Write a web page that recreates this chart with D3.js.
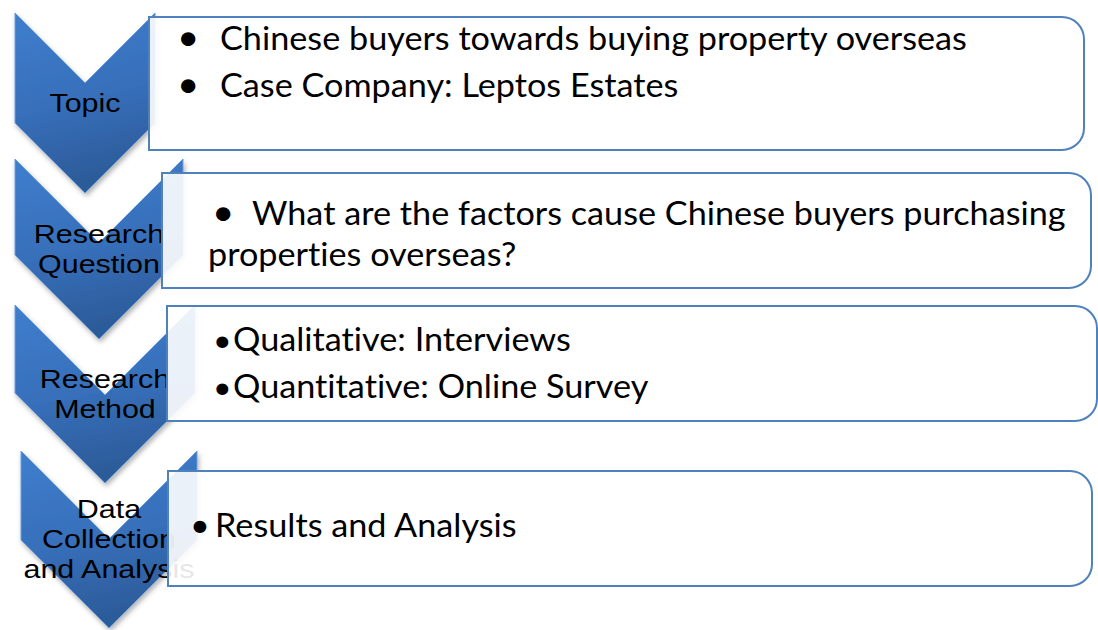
<!DOCTYPE html>
<html>
<head>
<meta charset="utf-8">
<style>
  html, body { margin: 0; padding: 0; background: #fff; }
  svg { display: block; }
  text { font-variant-ligatures: none; }
</style>
</head>
<body>
<div id="diagram"></div>
<script src="https://d3js.org/d3.v7.min.js"></script>
<script>
  // stage labels (left chevrons), one entry per line
  const stages = [
    ["Topic"],
    ["Research", "Question"],
    ["Research", "Method"],
    ["Data", "Collection", "and Analysis"]
  ];

  // bullet points shown in each box
  const details = [
    ["Chinese buyers towards buying property overseas", "Case Company: Leptos Estates"],
    ["What are the factors cause Chinese buyers purchasing properties overseas?"],
    ["Qualitative: Interviews", "Quantitative: Online Survey"],
    ["Results and Analysis"]
  ];

  // drawing geometry (it is not perfectly regular)
  const layout = [
    { cl: 15, cw: 140, ch: 180, bl: 149, br: 1084, bt: 17,  bb: 150, bx: 177, bs: 36, tx: 220, wx: 220, base: 50,  lh: 47 },
    { cl: 15, cw: 168, ch: 180, bl: 162, br: 1091, bt: 173, bb: 288, bx: 212, bs: 36, tx: 252, wx: 208, base: 225, lh: 41 },
    { cl: 15, cw: 180, ch: 178, bl: 167, br: 1097, bt: 306, bb: 421, bx: 213, bs: 30, tx: 233, wx: 233, base: 351, lh: 47 },
    { cl: 21, cw: 176, ch: 177, bl: 168, br: 1092, bt: 471, bb: 586, bx: 190, bs: 32, tx: 215, wx: 215, base: 537, lh: 47 }
  ];

  const width = 1098, height = 630;
  const bodyFont = "Lato, 'Open Sans', sans-serif";
  const bodySize = 32, bodyStretch = 1.07;

  const svg = d3.select("#diagram")
    .append("svg")
      .attr("width", width)
      .attr("height", height);

  // row position of each chevron
  const rowY = d3.scaleLinear()
    .domain([0, stages.length - 1])
    .range([13, 451]);

  const defs = svg.append("defs");
  const grad = defs.append("linearGradient")
    .attr("id", "chevFill")
    .attr("x1", 0).attr("y1", 0).attr("x2", 0.2).attr("y2", 1);
  grad.append("stop").attr("offset", "0%").attr("stop-color", "#3f7ecd");
  grad.append("stop").attr("offset", "55%").attr("stop-color", "#376fba");
  grad.append("stop").attr("offset", "100%").attr("stop-color", "#2c5b99");

  const shadow = defs.append("filter")
    .attr("id", "shadow")
    .attr("x", "-20%").attr("y", "-20%").attr("width", "140%").attr("height", "140%");
  shadow.append("feDropShadow")
    .attr("dx", 1.5).attr("dy", 3)
    .attr("stdDeviation", 2.5)
    .attr("flood-color", "#000")
    .attr("flood-opacity", 0.3);

  function chevronPath(i) {
    const g = layout[i];
    const L = g.cl, T = rowY(i), W = g.cw, H = g.ch, d = W / 2;
    return d3.line()([
      [L, T], [L + d, T + d], [L + W, T],
      [L + W, T + H - d], [L + d, T + H], [L, T + H - d]
    ]) + "Z";
  }

  function boxPath(g) {
    const r = 22;
    const p = d3.path();
    p.moveTo(g.bl, g.bt);
    p.lineTo(g.br - r, g.bt);
    p.arcTo(g.br, g.bt, g.br, g.bt + r, r);
    p.lineTo(g.br, g.bb - r);
    p.arcTo(g.br, g.bb, g.br - r, g.bb, r);
    p.lineTo(g.bl, g.bb);
    p.closePath();
    return p.toString();
  }

  const rows = svg.selectAll("g.row")
    .data(stages)
    .join("g")
      .attr("class", "row");

  // chevrons
  rows.append("path")
    .attr("d", (d, i) => chevronPath(i))
    .attr("fill", "url(#chevFill)")
    .attr("stroke", "#6a9ddd")
    .attr("stroke-width", 1)
    .attr("filter", "url(#shadow)");

  // chevron labels
  rows.each(function(lines, i) {
    const g = layout[i];
    const cx = g.cl + g.cw / 2;
    const mid = rowY(i) + g.ch / 2;
    const lh = 30;
    d3.select(this).append("text")
      .attr("transform", `translate(${cx},0) scale(1.15,1)`)
      .attr("text-anchor", "middle")
      .style("font-family", "'Liberation Sans', Arial, sans-serif")
      .style("font-size", "26.5px")
      .style("fill", "#000")
      .selectAll("tspan")
      .data(lines)
      .join("tspan")
        .attr("x", 0)
        .attr("y", (d, k) => mid - (lines.length - 1) * lh / 2 + 9 + k * lh)
        .text(d => d);
  });

  // content boxes (drawn over the chevrons, a little see-through)
  rows.append("path")
    .attr("d", (d, i) => boxPath(layout[i]))
    .attr("fill", "#fff")
    .attr("fill-opacity", 0.9)
    .attr("stroke", "#4f81bd")
    .attr("stroke-width", 2);

  function bodyText(sel, x, y, str) {
    return sel.append("text")
      .attr("transform", `translate(${x},${y}) scale(${bodyStretch},1)`)
      .style("font-family", bodyFont)
      .style("font-size", bodySize + "px")
      .style("fill", "#000")
      .text(str);
  }

  // bullet text, wrapped to the box width
  rows.each(function(d, i) {
    const g = layout[i];
    const row = d3.select(this);
    let lineNo = 0;
    details[i].forEach(item => {
      const y0 = g.base + lineNo * g.lh;
      bodyText(row, g.bx, y0, "\u2022").style("font-size", g.bs + "px");

      const words = item.split(" ");
      let x = g.tx;
      let t = bodyText(row, x, y0, "");
      let current = [];
      words.forEach(w => {
        current.push(w);
        t.text(current.join(" "));
        const len = t.node().getComputedTextLength() * bodyStretch;
        if (x + len > g.br - 10 && current.length > 1) {
          current.pop();
          t.text(current.join(" "));
          lineNo++;
          x = g.wx;
          current = [w];
          t = bodyText(row, x, g.base + lineNo * g.lh, w);
        }
      });
      lineNo++;
    });
  });
</script>
</body>
</html>
